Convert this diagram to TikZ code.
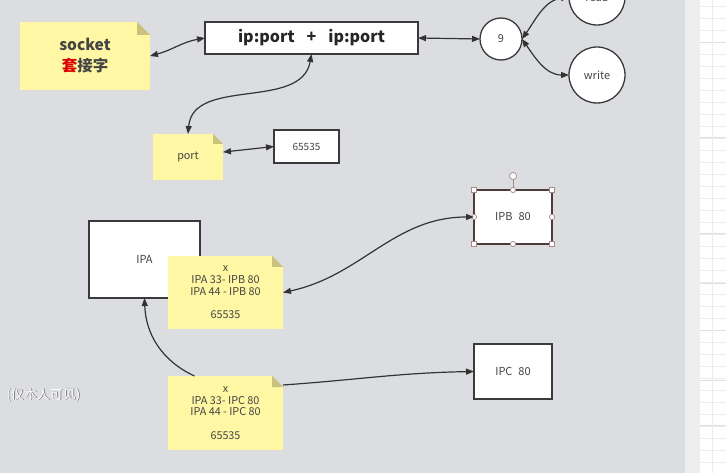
\documentclass[tikz,border=0pt]{standalone}
\usepackage{fontspec}
\setmainfont{Noto Sans CJK SC}
\usetikzlibrary{arrows.meta,calc}
\definecolor{bgc}{HTML}{DCDDE1}
\definecolor{stripc}{HTML}{EEEEEF}
\definecolor{gridc}{HTML}{ECECEC}
\definecolor{noteY}{HTML}{FFF7A3}
\definecolor{foldc}{HTML}{C9C27C}
\definecolor{linec}{HTML}{333333}
\definecolor{boxc}{HTML}{3A3A3A}
\definecolor{selc}{HTML}{4E3C3C}
\definecolor{handc}{HTML}{A88888}
\definecolor{txtc}{HTML}{444444}
\newcommand\notefold[2]{%
  \fill[bgc] (#1.north east) -- ++(-#2,0) -- ++(#2,-#2) -- cycle;
  \fill[foldc] ($(#1.north east)+(-#2,0)$) -- ++(0,-#2) -- ++(#2,0) -- cycle;}
\begin{document}
\begin{tikzpicture}[x=1pt,y=1pt,
  box/.style={draw=boxc,line width=1.3pt,fill=white,inner sep=0pt,outer sep=0pt,text=txtc,font=\fontsize{11}{13}\selectfont},
  circ/.style={circle,draw=boxc,line width=1.3pt,fill=white,inner sep=0pt,outer sep=0pt,text=txtc,font=\fontsize{11}{13}\selectfont},
  note/.style={fill=noteY,inner sep=0pt,outer sep=0pt,text=txtc,align=center,font=\fontsize{10.8}{11.8}\selectfont},
  dconn/.style={draw=linec,line width=1.2pt,{Triangle[length=8pt,width=6pt]}-{Triangle[length=8pt,width=6pt]}},
  sconn/.style={draw=linec,line width=1.2pt,-{Triangle[length=8pt,width=6pt]}},
  handle/.style={draw=handc,fill=white,line width=0.7pt},
  wmtext/.style={anchor=west,font=\fontsize{13}{15}\selectfont}]
\useasboundingbox (0,0) rectangle (726,-473);
% background
\fill[bgc] (0,0) rectangle (685,-473);
\fill[stripc] (685,0) rectangle (700,-473);
\fill[white] (700,0) rectangle (726,-473);
\foreach \yy in {6,18,...,473} {\draw[gridc,line width=0.4pt] (700,-\yy) -- (726,-\yy);}
\foreach \yy in {42,137,233,283,330,380,425} {\draw[black!12,line width=0.6pt] (700,-\yy) -- (726,-\yy);}
\draw[gridc,line width=0.4pt] (712,0) -- (712,-473);
% top part
\node[note,minimum width=130pt,minimum height=68pt,font=\fontsize{15.5}{21}\selectfont\bfseries] (soc) at (85,-56) {socket\\\textcolor{red!85!black}{套}接字};
\notefold{soc}{13}
\node[box,minimum width=213pt,minimum height=32pt,font=\fontsize{16}{18}\selectfont\bfseries,text=black!85] (ip) at (311.5,-38) {ip:port\hspace{12pt}+\hspace{12pt}ip:port};
\node[circ,minimum size=42pt] (c9) at (501,-39) {9};
\node[circ,minimum size=56pt] (rd) at (597,3) {read};
\node[circ,minimum size=56pt] (wr) at (597,-75) {write};
\node[note,minimum width=70pt,minimum height=46pt] (port) at (188,-157) {port};
\notefold{port}{10}
\node[box,minimum width=65pt,minimum height=33pt,font=\fontsize{10}{12}\selectfont] (n65) at (306.5,-146.5) {65535};
% lower part
\node[box,minimum width=111pt,minimum height=77pt] (ipa) at (144.5,-259.5) {IPA};
\node[note,minimum width=115pt,minimum height=73pt] (n1) at (225.5,-292.5) {x\\IPA 33- IPB 80\\IPA 44 - IPB 80\\[11.8pt]65535};
\notefold{n1}{11}
\node[box,draw=selc,minimum width=78pt,minimum height=54pt] (ipb) at (513,-217) {IPB\hspace{6pt}80};
\node[note,minimum width=115pt,minimum height=74pt] (n2) at (225.5,-413) {x\\IPA 33- IPC 80\\IPA 44 - IPC 80\\[11.8pt]65535};
\notefold{n2}{11}
\node[box,minimum width=78pt,minimum height=55pt] (ipc) at (513,-371.5) {IPC\hspace{6pt}80};
% selection handles on IPB
\coordinate (rotc) at ($(ipb.north)+(0,14)$);
\draw[handc,line width=0.8pt] (ipb.north) -- (rotc);
\draw[handle] (rotc) circle (3.6pt);
\foreach \a in {north west,north east,south west,south east}{\draw[handle] ($(ipb.\a)+(-2.5,-2.5)$) rectangle ++(5,5);}
\foreach \a in {north,south,east,west}{\draw[handle] (ipb.\a) circle (2.6pt);}
% connectors
\draw[dconn] (soc.east) to[out=15,in=190] (ip.west);
\draw[dconn] (ip.east) -- (c9.west);
\draw[dconn] (c9.east) to[out=55,in=188] (rd.west);
\draw[dconn] (c9.east) to[out=-55,in=180] (wr.west);
\draw[dconn] (ip.south) to[out=-100,in=85] (port.north);
\draw[dconn] (port.8) -- (n65.west);
\draw[dconn] (n1.east) to[out=12,in=180] (ipb.west);
\coordinate (n2a) at ($(n2.north west)!0.23!(n2.north east)$);
\draw[sconn] (n2a) to[out=155,in=-88] (ipa.south);
\coordinate (n2b) at ($(n2.north east)+(0,-9)$);
\draw[sconn] (n2b) to[out=4,in=181] (ipc.west);
% overlay caption
\node[wmtext,text=black!60] (wms) at (3.7,-395.7) {(仅本人可见)};
\node[wmtext,text=white] (wm) at (3,-395) {(仅本人可见)};
\end{tikzpicture}
\end{document}
